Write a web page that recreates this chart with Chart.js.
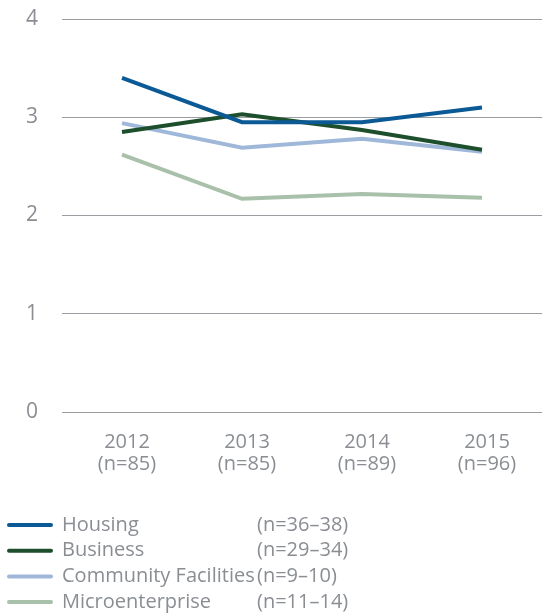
<!DOCTYPE html>
<html>
<head>
<meta charset="utf-8">
<script src="https://cdn.jsdelivr.net/npm/chart.js@4"></script>
<style>
  html, body { margin: 0; padding: 0; background: #fff; }
  #wrap { width: 542px; height: 616px; position: relative; }
</style>
</head>
<body>
<div id="wrap"><canvas id="myLineChart"></canvas></div>
<script>
// data
const years = ["2012", "2013", "2014", "2015"];
const yearN = ["(n=85)", "(n=85)", "(n=89)", "(n=96)"];
const seriesNames = ["Housing", "Business", "Community Facilities", "Microenterprise"];
const seriesN = ["(n=36\u201338)", "(n=29\u201334)", "(n=9\u201310)", "(n=11\u201314)"];
const housing = [3.40, 2.95, 2.95, 3.10];
const business = [2.85, 3.03, 2.87, 2.67];
const community = [2.94, 2.69, 2.78, 2.65];
const micro = [2.62, 2.17, 2.22, 2.18];
const yTicks = [0, 1, 2, 3, 4];

const colors = ["#0b5a95", "#1d4f2c", "#9fb8d9", "#a9c1aa"];
const textColor = "#8a8e93";
const fontFamily = "'Open Sans', 'Noto Sans', sans-serif";

const seriesValues = [housing, business, community, micro];

// legend drawn below the axis, name column + n column
const bottomLegend = {
  id: "bottomLegend",
  afterDraw(chart) {
    const ctx = chart.ctx;
    ctx.save();
    ctx.font = "20px " + fontFamily;
    ctx.textBaseline = "middle";
    ctx.fillStyle = textColor;
    seriesNames.forEach((name, i) => {
      const y = 525 + i * 25.7;
      ctx.strokeStyle = colors[i];
      ctx.lineWidth = 4;
      ctx.lineCap = "round";
      ctx.beginPath();
      ctx.moveTo(9, y);
      ctx.lineTo(51, y);
      ctx.stroke();
      ctx.fillText(name, 62, y);
      ctx.fillText(seriesN[i], 257, y);
    });
    ctx.restore();
  }
};

document.addEventListener("DOMContentLoaded", function () {
  const data = {
    labels: years.map((y, i) => [y, yearN[i]]),
    datasets: seriesNames.map((name, i) => ({
      label: name,
      data: seriesValues[i],
      borderColor: colors[i],
      backgroundColor: colors[i],
      borderWidth: 4,
      pointRadius: 0,
      tension: 0,
      fill: false
    }))
  };

  const config = {
    type: "line",
    data: data,
    options: {
      responsive: true,
      maintainAspectRatio: false,
      animation: false,
      layout: { padding: { top: 19, right: 0, bottom: 122, left: 0 } },
      plugins: {
        legend: { display: false },
        tooltip: { enabled: false }
      },
      scales: {
        x: {
          offset: true,
          grid: { display: false, drawTicks: false },
          border: { display: false },
          ticks: {
            color: textColor,
            padding: 19,
            labelOffset: 5,
            font: { family: fontFamily, size: 20, lineHeight: 1.1 },
            maxRotation: 0
          }
        },
        y: {
          min: 0,
          max: 4,
          afterFit(scale) {
            scale.width = 62;
            scale.paddingTop = 0;
            scale.paddingBottom = 0;
          },
          afterBuildTicks(scale) { scale.ticks = yTicks.map(v => ({ value: v })); },
          grid: { color: "#9a9ea3", lineWidth: 1, drawTicks: false },
          border: { display: false },
          ticks: {
            color: textColor,
            padding: 24,
            font: { family: fontFamily, size: 21 }
          }
        }
      }
    },
    plugins: [bottomLegend]
  };

  var ctx = document.getElementById("myLineChart").getContext("2d");
  var myLineChart = new Chart(ctx, config);
});
</script>
</body>
</html>
